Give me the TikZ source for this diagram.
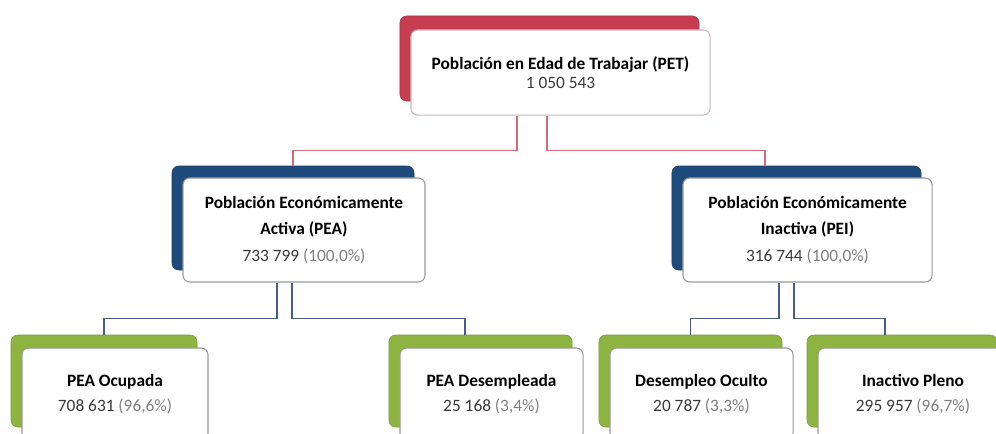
\documentclass[tikz,border=0pt]{standalone}
\usepackage{fontspec}
\setmainfont{Carlito}
\usetikzlibrary{positioning}
\definecolor{cTop}{HTML}{C63D4F}
\definecolor{cMid}{HTML}{1F4A7C}
\definecolor{cLow}{HTML}{8DB441}
\definecolor{cLinkTop}{HTML}{D66A79}
\definecolor{cLinkLow}{HTML}{4B5D86}
\definecolor{cNum}{HTML}{3A3A3A}
\definecolor{cPct}{HTML}{808080}

\begin{document}
\begin{tikzpicture}[
  x=0.75pt, y=-0.75pt,
  font=\fontsize{13}{14.5}\selectfont,
  plate/.style={rounded corners=5pt, fill=#1, draw=#1!85!black, line width=0.4pt, inner sep=0pt},
  card/.style={rounded corners=5pt, fill=white, draw=black!40, line width=0.8pt,
               align=center, inner sep=0pt},
  topsize/.style={minimum width=224.3pt, minimum height=63.8pt},
  midsize/.style={minimum width=#1, minimum height=78pt},
  lowsize/.style={minimum width=#1, minimum height=69pt},
  link/.style={draw=#1, line width=1pt},
]
\useasboundingbox (0,0) rectangle (996,433);
\clip (0,0) rectangle (996,433);

% ====================== level 1: PET ======================
\node[plate=cTop, topsize] (petB) at (549.5,58.5) {};
\node[card, draw=cTop!35!black!30, topsize] (pet) at (560.5,72.5)
  {\textbf{Población en Edad de Trabajar (PET)}\\ \textcolor{cNum}{1 050 543}};

% ====================== level 2: PEA / PEI ================
\node[plate=cMid, midsize=181.5pt] (peaB) at (293,218) {};
\node[card, midsize=181.5pt] (pea) at (304,230)
  {\textbf{Población Económicamente}\\[5.5pt] \textbf{Activa (PEA)}\\[5.5pt]
   \textcolor{cNum}{733 799} \textcolor{cPct}{(100,0\%)}};

\node[plate=cMid, midsize=186.8pt] (peiB) at (796.5,218) {};
\node[card, midsize=186.8pt] (pei) at (807.5,230)
  {\textbf{Población Económicamente}\\[5.5pt] \textbf{Inactiva (PEI)}\\[5.5pt]
   \textcolor{cNum}{316 744} \textcolor{cPct}{(100,0\%)}};

% ====================== level 3 ===========================
\node[plate=cLow, lowsize=139.5pt] (ocuB) at (104,381) {};
\node[card, lowsize=139.5pt] (ocu) at (115,394)
  {\textbf{PEA Ocupada}\\[4pt] \textcolor{cNum}{708 631} \textcolor{cPct}{(96,6\%)}};

\node[plate=cLow, lowsize=137.3pt] (desB) at (480.5,381) {};
\node[card, lowsize=137.3pt] (des) at (491.5,394)
  {\textbf{PEA Desempleada}\\[4pt] \textcolor{cNum}{25 168} \textcolor{cPct}{(3,4\%)}};

\node[plate=cLow, lowsize=137.3pt] (oclB) at (690.5,381) {};
\node[card, lowsize=137.3pt] (ocl) at (701.5,394)
  {\textbf{Desempleo Oculto}\\[4pt] \textcolor{cNum}{20 787} \textcolor{cPct}{(3,3\%)}};

\node[plate=cLow, lowsize=142.5pt] (inaB) at (902,381) {};
\node[card, lowsize=142.5pt] (ina) at (913,394)
  {\textbf{Inactivo Pleno}\\[4pt] \textcolor{cNum}{295 957} \textcolor{cPct}{(96,7\%)}};

% ====================== connectors ========================
\draw[link=cLinkTop] ([xshift=-43.5*0.75pt]pet.south) -- ++(0,35) -| (peaB.north);
\draw[link=cLinkTop] ([xshift=-13.5*0.75pt]pet.south) -- ++(0,35) -| ([xshift=-31.5*0.75pt]peiB.north);

\draw[link=cLinkLow] ([xshift=-27*0.75pt]pea.south) -- ++(0,36) -| (ocuB.north);
\draw[link=cLinkLow] ([xshift=-12*0.75pt]pea.south) -- ++(0,36) -| ([xshift=-15.5*0.75pt]desB.north);

\draw[link=cLinkLow] ([xshift=-28.5*0.75pt]pei.south) -- ++(0,36) -| (oclB.north);
\draw[link=cLinkLow] ([xshift=-13.5*0.75pt]pei.south) -- ++(0,36) -| ([xshift=-17*0.75pt]inaB.north);

\end{tikzpicture}
\end{document}
